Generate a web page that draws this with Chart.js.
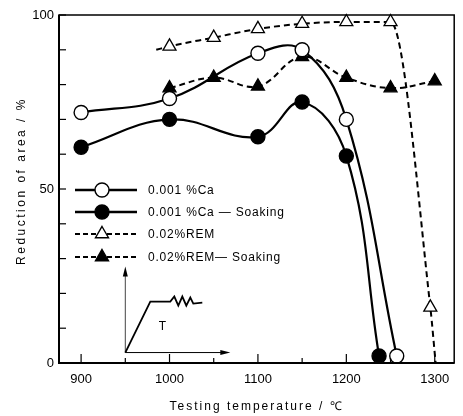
<!DOCTYPE html>
<html>
<head>
<meta charset="utf-8">
<script src="https://cdn.jsdelivr.net/npm/chart.js@4.4.0/dist/chart.umd.min.js"></script>
<style>
  html, body { margin: 0; padding: 0; background: #fff; }
</style>
</head>
<body>
<canvas id="chart" width="463" height="416"></canvas>
<script>
// data
const caTemp = [900, 1000, 1100, 1150, 1200, 1257];
const caArea = [72, 76, 89, 90, 70, 2];
const caSoakTemp = [900, 1000, 1100, 1150, 1200, 1237];
const caSoakArea = [62, 70, 65, 75, 59.5, 2];
const remTemp = [985, 1000, 1050, 1100, 1150, 1200, 1250, 1295, 1301];
const remArea = [90, 91, 93.5, 96, 97.5, 98, 98, 16, 0];
const remSoakTemp = [1000, 1050, 1100, 1150, 1200, 1250, 1300];
const remSoakArea = [79, 82, 79.5, 88, 82, 79, 81];

const xTicks = [900, 950, 1000, 1050, 1100, 1150, 1200, 1250, 1300];
const xLabels = [900, 1000, 1100, 1200, 1300];
const yTicks = [0, 10, 20, 30, 40, 50, 60, 70, 80, 90, 100];
const yLabels = [0, 50, 100];

const seriesNames = ['0.001 %Ca', '0.001 %Ca \u2014 Soaking', '0.02%REM', '0.02%REM\u2014 Soaking'];
const xTitle = 'Testing temperature / \u2103';
const yTitle = 'Reduction of area / %';

const FONT = '"Liberation Sans", Arial, sans-serif';
const pts = (xs, ys) => xs.map((v, i) => ({ x: v, y: ys[i] }));

const datasets = [
    {
        label: seriesNames[0], data: pts(caTemp, caArea),
        borderColor: '#000', borderWidth: 2.2, tension: 0.4,
        pointStyle: 'circle', pointRadius: 7, pointBackgroundColor: '#fff', pointBorderWidth: 1.4
    },
    {
        label: seriesNames[1], data: pts(caSoakTemp, caSoakArea),
        borderColor: '#000', borderWidth: 2.2, tension: 0.4,
        pointStyle: 'circle', pointRadius: 7, pointBackgroundColor: '#000', pointBorderWidth: 1.4
    },
    {
        label: seriesNames[2], data: pts(remTemp, remArea),
        borderColor: '#000', borderWidth: 2, borderDash: [6, 4], cubicInterpolationMode: 'monotone',
        pointStyle: 'triangle',
        pointRadius: c => (c.dataIndex === 0 || c.dataIndex === remTemp.length - 1) ? 0 : 7.5,
        pointBackgroundColor: '#fff', pointBorderWidth: 1.3
    },
    {
        label: seriesNames[3], data: pts(remSoakTemp, remSoakArea),
        borderColor: '#000', borderWidth: 2, borderDash: [6, 4], tension: 0.4,
        pointStyle: 'triangle', pointRadius: 7.5, pointBackgroundColor: '#000', pointBorderWidth: 1.3
    }
];
datasets.forEach(d => { d.clip = false; d.pointBorderColor = '#000'; });

function line(ctx, x1, y1, x2, y2) {
    ctx.beginPath(); ctx.moveTo(x1, y1); ctx.lineTo(x2, y2); ctx.stroke();
}

// frame, inward ticks, titles, legend and the little heating schedule
const deco = {
    id: 'deco',
    afterDraw(chart) {
        const { ctx, chartArea: a, scales: { x, y } } = chart;
        ctx.save();
        ctx.strokeStyle = '#000';
        ctx.fillStyle = '#000';
        ctx.setLineDash([]);

        ctx.lineWidth = 1.5;
        ctx.strokeRect(a.left, a.top, a.right - a.left, a.bottom - a.top);
        ctx.lineWidth = 2;
        ctx.beginPath();
        ctx.moveTo(a.left, a.top); ctx.lineTo(a.left, a.bottom); ctx.lineTo(a.right, a.bottom);
        ctx.stroke();

        ctx.lineWidth = 1.2;
        xTicks.forEach(v => {
            const px = x.getPixelForValue(v);
            line(ctx, px, a.bottom, px, a.bottom - (v % 100 === 0 ? 9 : 5));
        });
        yTicks.forEach(v => {
            const py = y.getPixelForValue(v);
            line(ctx, a.left, py, a.left + 7, py);
        });

        // axis titles
        ctx.font = '12px ' + FONT;
        ctx.textAlign = 'center';
        ctx.textBaseline = 'middle';
        ctx.letterSpacing = '2px';
        ctx.fillText(xTitle, (a.left + a.right) / 2, 407);
        ctx.save();
        ctx.translate(22, (a.top + a.bottom) / 2 - 8);
        ctx.rotate(-Math.PI / 2);
        ctx.letterSpacing = '2.5px';
        ctx.fillText(yTitle, 0, 0);
        ctx.restore();

        // legend
        ctx.letterSpacing = '0.8px';
        ctx.textAlign = 'left';
        ctx.font = '12px ' + FONT;
        const rowY = [190, 212, 234, 257];
        datasets.forEach((d, i) => {
            const ry = rowY[i];
            ctx.lineWidth = d.borderDash ? 2 : 2.6;
            ctx.setLineDash(d.borderDash ? [5, 3] : []);
            line(ctx, 75, ry, 137, ry);
            ctx.setLineDash([]);
            ctx.lineWidth = 1.4;
            ctx.fillStyle = d.pointBackgroundColor;
            ctx.beginPath();
            if (d.pointStyle === 'circle') {
                ctx.arc(102, ry, 7, 0, Math.PI * 2);
            } else {
                const r = 7.5;
                ctx.moveTo(102, ry - r);
                ctx.lineTo(102 + r * Math.sin(2 * Math.PI / 3), ry - r * Math.cos(2 * Math.PI / 3));
                ctx.lineTo(102 - r * Math.sin(2 * Math.PI / 3), ry - r * Math.cos(2 * Math.PI / 3));
                ctx.closePath();
            }
            ctx.fill();
            ctx.stroke();
            ctx.fillStyle = '#000';
            ctx.fillText(d.label, 148, ry + 1);
        });
        ctx.letterSpacing = '0px';

        // inset: heating schedule sketch, anchored at 950 C
        const ax = x.getPixelForValue(950);
        const ay = y.getPixelForValue(3);
        ctx.lineWidth = 1;
        ctx.strokeStyle = '#444';
        line(ctx, ax, ay, ax, ay - 78);
        ctx.strokeStyle = '#000';
        line(ctx, ax, ay, ax + 98, ay);
        ctx.beginPath();
        ctx.moveTo(ax, ay - 86); ctx.lineTo(ax - 2.5, ay - 76); ctx.lineTo(ax + 2.5, ay - 76); ctx.closePath();
        ctx.fill();
        ctx.beginPath();
        ctx.moveTo(ax + 105, ay); ctx.lineTo(ax + 95, ay - 2.5); ctx.lineTo(ax + 95, ay + 2.5); ctx.closePath();
        ctx.fill();
        ctx.lineWidth = 1.8;
        ctx.beginPath();
        ctx.moveTo(ax, ay);
        ctx.lineTo(ax + 25, ay - 51);
        ctx.lineTo(ax + 45, ay - 51);
        ctx.lineTo(ax + 49, ay - 56);
        ctx.lineTo(ax + 53, ay - 47);
        ctx.lineTo(ax + 57, ay - 56);
        ctx.lineTo(ax + 61, ay - 47);
        ctx.lineTo(ax + 65, ay - 55);
        ctx.lineTo(ax + 68, ay - 49);
        ctx.lineTo(ax + 77, ay - 50);
        ctx.stroke();
        ctx.textAlign = 'center';
        ctx.font = '12px ' + FONT;
        ctx.fillText('T', ax + 37, ay - 26);
        ctx.restore();
    }
};

new Chart(document.getElementById('chart'), {
    type: 'line',
    data: { datasets: datasets },
    plugins: [deco],
    options: {
        responsive: false,
        animation: false,
        devicePixelRatio: 1,
        layout: { padding: { top: 15, right: 5, left: 0, bottom: 0 } },
        plugins: { legend: { display: false }, tooltip: { enabled: false } },
        scales: {
            x: {
                type: 'linear', min: 875, max: 1322,
                afterFit: s => { s.height = 53; },
                afterBuildTicks: s => { s.ticks = xTicks.map(v => ({ value: v })); },
                grid: { display: false, drawTicks: false },
                border: { display: false },
                ticks: {
                    padding: 9, color: '#000', font: { family: FONT, size: 13 },
                    maxRotation: 0, autoSkip: false,
                    callback: v => xLabels.includes(v) ? String(v) : ''
                }
            },
            y: {
                min: 0, max: 100,
                afterFit: s => { s.width = 59; },
                afterBuildTicks: s => { s.ticks = yTicks.map(v => ({ value: v })); },
                grid: { display: false, drawTicks: false },
                border: { display: false },
                ticks: {
                    padding: 5, color: '#000', font: { family: FONT, size: 13 },
                    autoSkip: false,
                    callback: v => yLabels.includes(v) ? String(v) : ''
                }
            }
        }
    }
});
</script>
</body>
</html>
